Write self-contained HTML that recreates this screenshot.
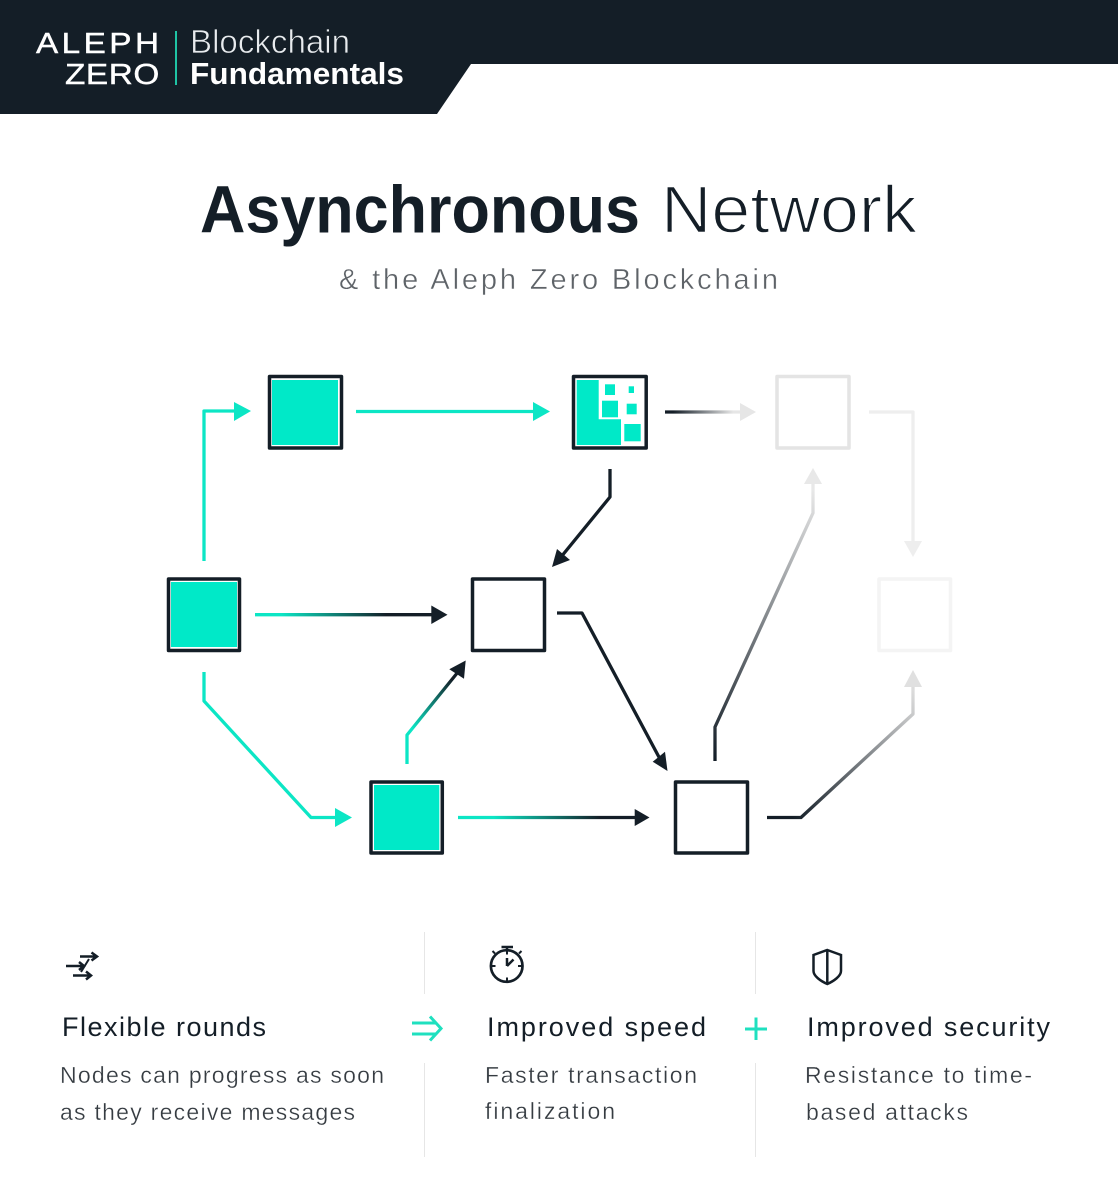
<!DOCTYPE html>
<html><head><meta charset="utf-8"><style>
html,body{margin:0;padding:0;background:#fff}
svg{display:block}
text{font-family:"Liberation Sans",sans-serif}
</style></head><body>
<svg width="1118" height="1200" viewBox="0 0 1118 1200" xmlns="http://www.w3.org/2000/svg">
<defs>
<linearGradient id="g1" gradientUnits="userSpaceOnUse" x1="255" y1="0" x2="430" y2="0"><stop offset="0.15" stop-color="#0ce6c5"/><stop offset="0.75" stop-color="#141e27"/></linearGradient>
<linearGradient id="g2" gradientUnits="userSpaceOnUse" x1="458" y1="0" x2="635" y2="0"><stop offset="0.2" stop-color="#0ce6c5"/><stop offset="0.8" stop-color="#141e27"/></linearGradient>
<linearGradient id="g3" gradientUnits="userSpaceOnUse" x1="407" y1="765" x2="462" y2="665"><stop offset="0.3" stop-color="#0ce6c5"/><stop offset="0.85" stop-color="#141e27"/></linearGradient>
<linearGradient id="g4" gradientUnits="userSpaceOnUse" x1="665" y1="0" x2="745" y2="0"><stop offset="0.1" stop-color="#141e27"/><stop offset="0.85" stop-color="#e6e6e6"/></linearGradient>
<linearGradient id="g5" gradientUnits="userSpaceOnUse" x1="715" y1="760" x2="813" y2="490"><stop offset="0" stop-color="#141e27"/><stop offset="1" stop-color="#e8e8e8"/></linearGradient>
<linearGradient id="g6" gradientUnits="userSpaceOnUse" x1="767" y1="818" x2="913" y2="690"><stop offset="0.1" stop-color="#141e27"/><stop offset="1" stop-color="#dcdcdc"/></linearGradient>
</defs>

<!-- header -->
<polygon points="0,0 1118,0 1118,64 471,64 437,114 0,114" fill="#141e27"/>
<text transform="translate(36 53) scale(1.15 1)" font-size="29" fill="#fff" stroke="#fff" stroke-width="0.4" textLength="107" lengthAdjust="spacing">ALEPH</text>
<text transform="translate(65 84) scale(1.15 1)" font-size="29" fill="#fff" stroke="#fff" stroke-width="0.4" textLength="82" lengthAdjust="spacing">ZERO</text>
<rect x="175" y="31" width="2" height="54" fill="#1fc4a5"/>
<text x="190" y="53" font-size="33" fill="#e8ebee" stroke="#141e27" stroke-width="0.7" textLength="160" lengthAdjust="spacingAndGlyphs">Blockchain</text>
<text x="190" y="84" font-size="31" font-weight="700" fill="#fff" textLength="214" lengthAdjust="spacingAndGlyphs">Fundamentals</text>

<!-- title -->
<text x="200" y="232.500" font-size="67" font-weight="700" fill="#141e27" textLength="440" lengthAdjust="spacingAndGlyphs">Asynchronous</text>
<text x="661" y="232.500" font-size="67" fill="#141e27" stroke="#fff" stroke-width="1.6" textLength="256" lengthAdjust="spacingAndGlyphs">Network</text>
<text x="339" y="289" font-size="29" fill="#5e6368" stroke="#fff" stroke-width="0.4" textLength="439" lengthAdjust="spacing">&amp; the Aleph Zero Blockchain</text>

<!-- connectors -->
<g fill="none" stroke-width="3.300" stroke-linejoin="round">
<path d="M204 561V411H236" stroke="#0ce6c5"/>
<path d="M356 411.500H534" stroke="#0ce6c5"/>
<path d="M665 412H742" stroke="url(#g4)"/>
<path d="M869 412H913V543" stroke="#eeeeee"/>
<path d="M610 469V497L561 557" stroke="#141e27"/>
<path d="M255 614.700H432" stroke="url(#g1)"/>
<path d="M557 613H582L660 759" stroke="#141e27"/>
<path d="M204 672V701L311 817.500H337" stroke="#0ce6c5"/>
<path d="M407 764V735L458 672" stroke="url(#g3)"/>
<path d="M458 817.500H636" stroke="url(#g2)"/>
<path d="M715 761V727L813 513V482" stroke="url(#g5)"/>
<path d="M767 817.500H801L913 714V686" stroke="url(#g6)"/>
</g>
<!-- arrowheads -->
<polygon points="234,402 251,411 234,421" fill="#0ce6c5"/>
<polygon points="533,402 550,411.500 533,421" fill="#0ce6c5"/>
<polygon points="740,403 756,412 740,421" fill="#e6e6e6"/>
<polygon points="904,541 922,541 913,557" fill="#eeeeee"/>
<polygon points="552,567 557,549 570,560" fill="#141e27"/>
<polygon points="431.300,605.500 447.500,614.700 431.300,624" fill="#141e27"/>
<polygon points="667.500,771 652.700,761.700 665,751.700" fill="#141e27"/>
<polygon points="335,808 352,817.500 335,827" fill="#0ce6c5"/>
<polygon points="465.700,660.500 449.300,669.300 464,678.700" fill="#141e27"/>
<polygon points="634.700,809 649.500,817.500 634.700,826" fill="#141e27"/>
<polygon points="804,484 822,484 813,468" fill="#e8e8e8"/>
<polygon points="904,687 922,687 913,670" fill="#e0e0e0"/>

<!-- nodes -->
<g stroke-width="3.500" fill="#fff" stroke-linejoin="round">
<rect x="269.500" y="376.500" width="72" height="71.500" stroke="#141e27"/>
<rect x="573.500" y="376.500" width="72.700" height="71.500" stroke="#141e27"/>
<rect x="777" y="376.500" width="72" height="71.500" stroke="#e4e4e4"/>
<rect x="168.500" y="579" width="71" height="71.500" stroke="#141e27"/>
<rect x="472.500" y="579" width="72" height="71.500" stroke="#141e27"/>
<rect x="879" y="579" width="71.500" height="71.500" stroke="#f4f4f4"/>
<rect x="371" y="782" width="71.300" height="71" stroke="#141e27"/>
<rect x="675.500" y="782" width="72" height="71" stroke="#141e27"/>
</g>
<g fill="#00e9c8">
<rect x="272" y="380" width="66" height="65"/>
<rect x="171" y="582" width="66" height="65"/>
<rect x="374" y="785" width="65.300" height="65"/>
<polygon points="576.700,380 598.700,380 598.700,419.300 621,419.300 621,445 576.700,445"/>
<rect x="605" y="384.300" width="10" height="10.700"/>
<rect x="628.700" y="386.300" width="5.300" height="6.700"/>
<rect x="602" y="400.700" width="16" height="16.600"/>
<rect x="626.700" y="403.700" width="10" height="10.600"/>
<rect x="624.300" y="424" width="16.400" height="17.300"/>
</g>

<!-- dividers -->
<g fill="#e6e6e6">
<rect x="424" y="932" width="1" height="62"/>
<rect x="424" y="1063" width="1" height="94"/>
<rect x="755" y="932" width="1" height="62"/>
<rect x="755" y="1063" width="1" height="94"/>
</g>

<!-- icons -->
<g fill="none" stroke="#141e27" stroke-width="2.500">
<path d="M80 956.500H97M91.500 952.500L97 956.500L91.500 960.500"/>
<path d="M66 966H84M79 962L84 966L79 970"/>
<path d="M73 975.500H91M86 971.500L91 975.500L86 979.500"/>
<path d="M89 959L81 972" stroke-width="2"/>
<circle cx="506.700" cy="966" r="15.800" stroke-width="2.700"/>
<path d="M501.500 947H513M507 947V950"/>
<path d="M507 966V958M507 966L513.500 959.500"/>
<path d="M507 951V954.500M507 977.500V981M492 966H495.500M518 966H521.500M495 953.500L492.500 951M519 953.500L521.500 951" stroke-width="2"/>
<path d="M827.300 950L841 955V971C841 976 834 981 827.300 984C820.500 981 813.500 976 813.500 971V955Z" stroke-width="2.500"/>
<path d="M827.300 950V984"/>
</g>

<!-- teal symbols -->
<g fill="none" stroke="#1fe0bf" stroke-width="3">
<path d="M412 1023H436M412 1034H436M430 1016.500L441 1028.500L430 1040.500"/>
<path d="M745 1029H767M756 1017.500V1040"/>
</g>

<!-- bottom text -->
<g fill="#141e27" font-size="27">
<text x="62" y="1036" textLength="204" lengthAdjust="spacing">Flexible rounds</text>
<text x="487" y="1036" textLength="219" lengthAdjust="spacing">Improved speed</text>
<text x="807" y="1036" textLength="243" lengthAdjust="spacing">Improved security</text>
</g>
<g fill="#353b41" font-size="23" stroke="#fff" stroke-width="0.3">
<text x="60" y="1083" textLength="324" lengthAdjust="spacing">Nodes can progress as soon</text>
<text x="60" y="1120" textLength="295" lengthAdjust="spacing">as they receive messages</text>
<text x="485" y="1083" textLength="212" lengthAdjust="spacing">Faster transaction</text>
<text x="485" y="1119" textLength="130" lengthAdjust="spacing">finalization</text>
<text x="805" y="1083" textLength="227" lengthAdjust="spacing">Resistance to time-</text>
<text x="806" y="1120" textLength="162" lengthAdjust="spacing">based attacks</text>
</g>
</svg>
</body></html>
